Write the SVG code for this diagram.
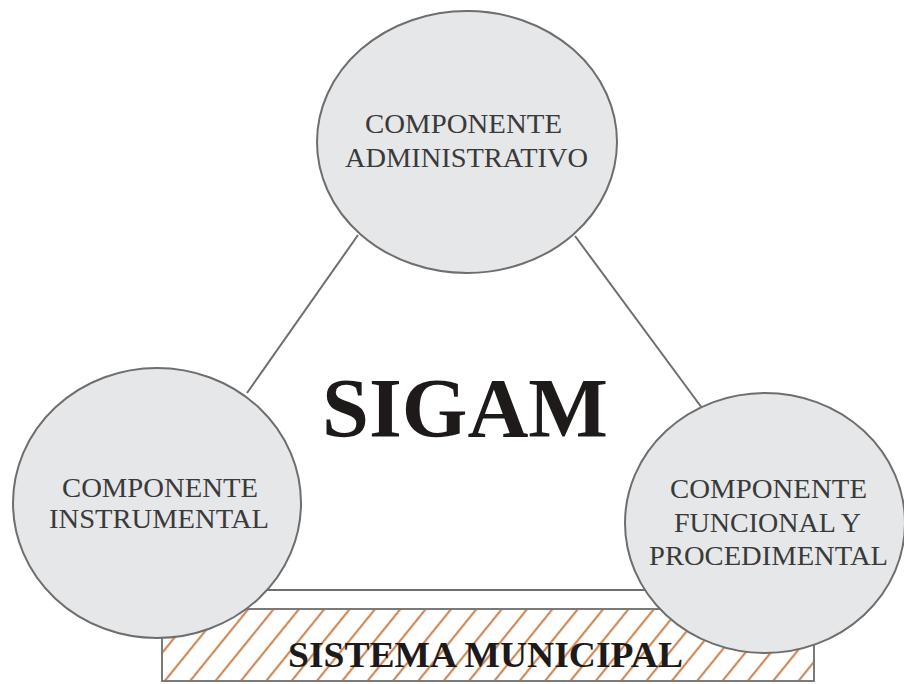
<svg xmlns="http://www.w3.org/2000/svg" width="904" height="684" viewBox="0 0 904 684">
  <style>
    .node { fill: #e6e7e9; stroke: #6e6e6e; stroke-width: 2; }
    .edge { stroke: #6e6e6e; stroke-width: 2; fill: none; }
    .lbl { font-family: "Liberation Serif", "Times New Roman", serif; font-size: 27.5px; fill: #3a3a3a; text-anchor: middle; }
    .title { font-family: "Liberation Serif", "Times New Roman", serif; font-weight: bold; fill: #1e1a1a; }
  </style>
  <defs>
    <pattern id="hatch" patternUnits="userSpaceOnUse" width="19.7" height="20" patternTransform="rotate(39)">
      <rect width="19.7" height="20" fill="#ffffff"/>
      <line x1="5" y1="0" x2="5" y2="20" stroke="#cf8a5a" stroke-width="2.2"/>
    </pattern>
  </defs>
  <rect width="904" height="684" fill="#ffffff"/>

  <!-- base: municipal system band -->
  <g id="sistema-municipal">
    <rect x="162" y="609" width="652" height="72" fill="url(#hatch)" stroke="#7a7a7a" stroke-width="2"/>
    <text class="title" x="288" y="667" font-size="35" textLength="395" lengthAdjust="spacingAndGlyphs">SISTEMA MUNICIPAL</text>
  </g>

  <!-- connectors forming the triangle -->
  <g id="connectors">
    <line class="edge" x1="358" y1="235" x2="247" y2="393"/>
    <line class="edge" x1="575" y1="236" x2="702" y2="408"/>
    <line class="edge" x1="250" y1="590" x2="680" y2="590"/>
  </g>

  <g id="sigam">
    <text class="title" x="465" y="437" font-size="85" text-anchor="middle" textLength="286" lengthAdjust="spacingAndGlyphs">SIGAM</text>
  </g>

  <g id="componente-administrativo">
    <ellipse class="node" cx="467" cy="142" rx="150" ry="131"/>
    <text class="lbl" x="463.5" y="133" textLength="197" lengthAdjust="spacingAndGlyphs">COMPONENTE</text>
    <text class="lbl" x="466.5" y="167" textLength="243" lengthAdjust="spacingAndGlyphs">ADMINISTRATIVO</text>
  </g>

  <g id="componente-instrumental">
    <ellipse class="node" cx="157" cy="503" rx="144" ry="135"/>
    <text class="lbl" x="160" y="497" textLength="196" lengthAdjust="spacingAndGlyphs">COMPONENTE</text>
    <text class="lbl" x="159" y="528" textLength="220" lengthAdjust="spacingAndGlyphs">INSTRUMENTAL</text>
  </g>

  <g id="componente-funcional">
    <ellipse class="node" cx="765" cy="523" rx="140" ry="130"/>
    <text class="lbl" x="768.5" y="498" textLength="197" lengthAdjust="spacingAndGlyphs">COMPONENTE</text>
    <text class="lbl" x="767.5" y="532" textLength="187" lengthAdjust="spacingAndGlyphs">FUNCIONAL Y</text>
    <text class="lbl" x="768.5" y="565" textLength="239" lengthAdjust="spacingAndGlyphs">PROCEDIMENTAL</text>
  </g>
</svg>
